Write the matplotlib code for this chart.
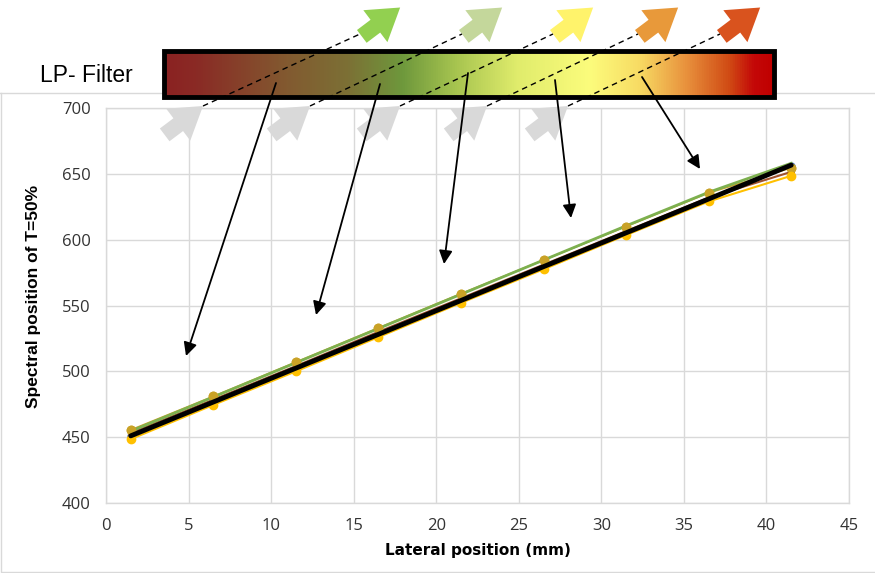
import numpy as np
import matplotlib
matplotlib.use("Agg")
import matplotlib.pyplot as plt
from matplotlib.colors import LinearSegmentedColormap
from matplotlib.patches import Rectangle, Polygon

# ---------------- data ----------------
lateral_mm = [1.5, 6.5, 11.5, 16.5, 21.5, 26.5, 31.5, 36.5, 41.5]
series_blue = [451.0, 476.5, 502.0, 527.5, 553.5, 579.0, 604.5, 630.5, 656.0]
series_brown = [453.0, 478.5, 504.0, 530.0, 555.5, 581.0, 606.5, 632.0, 651.5]
series_green = [454.5, 480.5, 506.5, 532.5, 558.5, 584.5, 610.5, 636.0, 658.0]
series_gold = [455.5, 481.0, 507.0, 533.0, 559.0, 584.5, 610.0, 635.5, 654.5]
series_yellow = [448.5, 474.5, 500.0, 526.0, 552.0, 577.5, 603.5, 629.0, 648.5]
series_fit = [451.0, 476.7, 502.4, 528.1, 553.8, 579.5, 605.2, 630.9, 656.6]

x_ticks = [0, 5, 10, 15, 20, 25, 30, 35, 40, 45]
y_ticks = [400, 450, 500, 550, 600, 650, 700]

W, H = 875, 573
fig = plt.figure(figsize=(W / 100, H / 100), dpi=100)

# ---------------- main axes ----------------
ax = fig.add_axes([106 / W, 1 - 503 / H, (849 - 106) / W, (503 - 108) / H])
grid_c = "#D9D9D9"
ax.set_xlim(0, 45)
ax.set_ylim(400, 700)
ax.set_xticks(x_ticks)
ax.set_yticks(y_ticks)
ax.grid(True, color=grid_c, lw=1.0)
ax.set_axisbelow(True)
for s in ax.spines.values():
    s.set_color(grid_c)
    s.set_linewidth(1.0)
ax.tick_params(length=0, labelsize=12, colors="#333333", pad=11)
for lab in ax.get_xticklabels() + ax.get_yticklabels():
    lab.set_family(["Open Sans", "DejaVu Sans"])

ax.plot(lateral_mm, series_blue, color="#4472C4", lw=1.5, marker="o", ms=5, zorder=3)
ax.plot(lateral_mm, series_brown, color="#A0522D", lw=1.5, marker="o", ms=4, zorder=3)
ax.plot(lateral_mm, series_gold, color="#C9A227", lw=1.2, marker="o", ms=6, zorder=3)
ax.plot(lateral_mm, series_green, color="#7DB04F", lw=2.0, zorder=4)
ax.plot(lateral_mm, series_gold, color="#C9A227", lw=0, marker="o", ms=6, zorder=4)
ax.plot(lateral_mm, series_yellow, color="#FFC000", lw=1.5, marker="o", ms=6, zorder=4)
ax.plot(lateral_mm, series_fit, color="black", lw=3.5, zorder=5, solid_capstyle="round")

ax.set_xlabel("Lateral position (mm)", fontsize=11, fontweight="bold",
              family=["DejaVu Sans"], labelpad=6)
ax.set_ylabel("Spectral position of T=50%", fontsize=12.5, fontweight="bold",
              family=["Liberation Sans Narrow", "Liberation Sans", "DejaVu Sans"])
ax.yaxis.set_label_coords((41 - 106) / 743, (503 - 296) / 395)

# ---------------- overlay (pixel coordinates) ----------------
ov = fig.add_axes([0, 0, 1, 1], zorder=10)
ov.axis("off")
ov.patch.set_alpha(0)

# chart border
ov.plot([0.5, 0.5, W], [93, H - 1, H - 1], color=grid_c, lw=1.0, zorder=0)
ov.plot([0, W], [93, 93], color=grid_c, lw=1.0, zorder=0)

# gradient filter bar
stops = [
    (0.00, "#8B2222"), (0.05, "#8A2A25"), (0.20, "#825A30"), (0.30, "#7C7035"),
    (0.39, "#6E983C"), (0.48, "#A8C550"), (0.58, "#E0EC6C"), (0.70, "#FCFC7C"),
    (0.78, "#F8DC64"), (0.86, "#E8903C"), (0.93, "#D04A14"), (0.97, "#C40808"),
    (1.00, "#C00000"),
]
cmap = LinearSegmentedColormap.from_list("lp", stops)
grad = np.linspace(0, 1, 512).reshape(1, -1)
ov.imshow(grad, cmap=cmap, aspect="auto", extent=(165, 773, 97, 51), zorder=1)
ov.add_patch(Rectangle((164, 51), 610, 46, fill=False, ec="black", lw=3.5, zorder=3))
ov.set_xlim(0, W)
ov.set_ylim(H, 0)

ov.text(40, 76, "LP- Filter", fontsize=16.5, family=["Liberation Sans", "DejaVu Sans"],
        va="center", ha="left", color="black")


def block_arrow(tip, d, color, L=48, hl=31, hw=20, sw=8):
    d = np.asarray(d, float)
    d = d / np.hypot(*d)
    n = np.array([-d[1], d[0]])
    tip = np.asarray(tip, float)
    base = tip - hl * d
    tail = tip - L * d
    pts = [tip, base + hw * n, base + sw * n, tail + sw * n,
           tail - sw * n, base - sw * n, base - hw * n]
    ov.add_patch(Polygon(pts, closed=True, fc=color, ec="none", zorder=2))


dash_lines = [((203, 106), (360, 34)), ((310, 106), (462, 34)), ((400, 106), (553, 34)),
              ((487, 106), (638, 34)), ((568, 106), (720, 34))]
top_colors = ["#92D050", "#C4D79B", "#FFF36B", "#E8993A", "#D9531E"]
ang = np.deg2rad(37)
da = np.array([np.cos(ang), -np.sin(ang)])
for (s, e), c in zip(dash_lines, top_colors):
    s = np.array(s, float)
    e = np.array(e, float)
    block_arrow(s, da, "#D9D9D9")
    block_arrow(e + 44 * da + np.array([5, 0]), da, c)
    ov.plot([s[0], e[0]], [s[1], e[1]], color="black", lw=1.0, ls=(0, (4, 3)), zorder=4)

solid_arrows = [((276, 83), (186, 356)), ((380, 84), (316, 315)), ((468, 73), (444, 264)),
                ((555, 80), (571, 218)), ((642, 77), (700, 169))]
for start, tip in solid_arrows:
    ov.annotate("", xy=tip, xytext=start,
                arrowprops=dict(arrowstyle="-|>", color="black", lw=1.3,
                                mutation_scale=20, shrinkA=0, shrinkB=0),
                zorder=6)

fig.savefig("out.png", dpi=100)
